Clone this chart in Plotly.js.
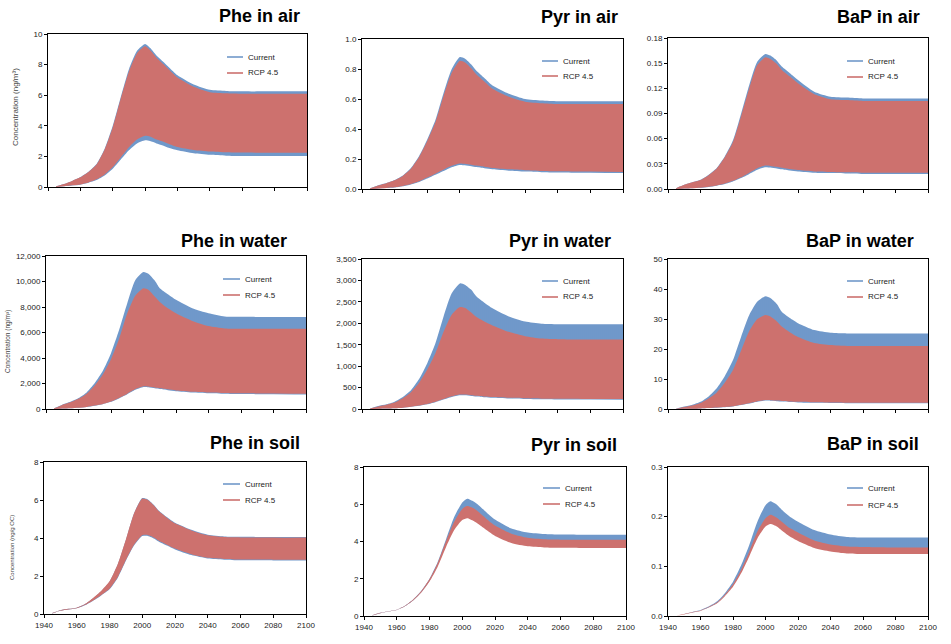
<!DOCTYPE html>
<html><head><meta charset="utf-8">
<script src="https://cdn.plot.ly/plotly-3.0.1.min.js"></script>
<style>html,body{margin:0;padding:0;background:#fff}</style>
</head><body><div id="chart" style="width:951px;height:644px"></div>
<script>
// ---- data (annual peak / trough envelopes) ----
const years = [1945,1950,1955,1960,1965,1970,1975,1980,1985,1990,1995,2000,2003,2007,2010,2015,2020,2030,2040,2050,2060,2080,2100];
const seriesNames = ['Current','RCP 4.5'];
const panelTitles = ['Phe in air','Pyr in air','BaP in air','Phe in water','Pyr in water','BaP in water','Phe in soil','Pyr in soil','BaP in soil'];
const yTitles = ['Concentration (ng/m³)','Concentration (ng/m³)','Concentration (ng/g OC)'];
const xTickLabels = ['1940','1960','1980','2000','2020','2040','2060','2080','2100'];

const pheAirCurMax = [0.05,0.2,0.4,0.65,1.0,1.5,2.5,4.0,5.9,7.7,8.9,9.35,9.1,8.6,8.3,7.8,7.3,6.7,6.35,6.28,6.25,6.25,6.25];
const pheAirCurMin = [0,0.05,0.1,0.15,0.28,0.45,0.75,1.2,1.8,2.4,2.85,3.05,3.0,2.85,2.75,2.55,2.4,2.2,2.1,2.05,2.03,2.02,2.02];
const pheAirRcpMax = [0.05,0.2,0.4,0.63,0.98,1.47,2.45,3.9,5.8,7.55,8.75,9.2,8.95,8.45,8.15,7.65,7.15,6.55,6.2,6.13,6.1,6.1,6.1];
const pheAirRcpMin = [0,0.05,0.11,0.17,0.3,0.5,0.82,1.3,1.95,2.6,3.1,3.35,3.3,3.1,3.0,2.8,2.62,2.42,2.32,2.27,2.25,2.24,2.24];

const pyrAirCurMax = [0.005,0.025,0.04,0.06,0.09,0.14,0.22,0.33,0.46,0.64,0.8,0.88,0.87,0.83,0.79,0.74,0.69,0.635,0.6,0.59,0.585,0.585,0.585];
const pyrAirCurMin = [0,0.003,0.006,0.01,0.018,0.03,0.047,0.07,0.095,0.12,0.145,0.16,0.158,0.152,0.146,0.138,0.131,0.122,0.116,0.112,0.11,0.108,0.106];
const pyrAirRcpMax = [0.005,0.024,0.039,0.058,0.087,0.135,0.213,0.32,0.445,0.62,0.775,0.855,0.845,0.805,0.765,0.717,0.668,0.615,0.582,0.572,0.567,0.567,0.567];
const pyrAirRcpMin = [0,0.003,0.007,0.011,0.02,0.033,0.051,0.076,0.102,0.13,0.155,0.17,0.168,0.162,0.156,0.148,0.14,0.131,0.125,0.12,0.118,0.116,0.114];

const bapAirCurMax = [0.001,0.005,0.008,0.011,0.017,0.025,0.039,0.058,0.09,0.124,0.152,0.161,0.159,0.153,0.146,0.138,0.13,0.116,0.11,0.109,0.108,0.108,0.108];
const bapAirCurMin = [0,0.0005,0.001,0.0015,0.0025,0.004,0.006,0.009,0.013,0.018,0.023,0.026,0.0255,0.0245,0.0235,0.022,0.021,0.0195,0.019,0.0185,0.018,0.018,0.018];
const bapAirRcpMax = [0.001,0.005,0.008,0.0107,0.0165,0.0243,0.038,0.056,0.087,0.12,0.148,0.157,0.155,0.149,0.142,0.134,0.126,0.113,0.107,0.106,0.105,0.105,0.105];
const bapAirRcpMin = [0,0.0005,0.001,0.0016,0.0027,0.0043,0.0065,0.0097,0.014,0.0195,0.0248,0.028,0.0275,0.0264,0.0253,0.0237,0.0226,0.021,0.0204,0.0199,0.0194,0.0194,0.0194];

const pheWaterCurMax = [50,340,560,860,1300,2030,3000,4380,6210,8300,10120,10750,10600,10050,9470,9000,8560,7900,7510,7250,7230,7220,7220];
const pheWaterCurMin = [0,30,60,100,160,260,380,560,830,1150,1500,1720,1700,1620,1560,1480,1400,1300,1240,1200,1170,1150,1130];
const pheWaterRcpMax = [50,320,520,800,1200,1850,2700,3900,5500,7500,8900,9470,9350,8800,8400,7900,7500,6900,6500,6320,6300,6300,6300];
const pheWaterRcpMin = [0,30,60,100,165,270,400,590,870,1200,1560,1780,1760,1680,1620,1540,1460,1360,1300,1260,1230,1210,1190];

const pyrWaterCurMax = [10,70,110,170,280,440,700,1070,1535,2160,2700,2930,2900,2780,2630,2480,2350,2160,2040,1990,1980,1980,1980];
const pyrWaterCurMin = [0,5,10,18,30,50,75,110,160,220,280,320,318,305,292,275,262,245,235,228,224,220,218];
const pyrWaterRcpMax = [10,60,100,150,250,390,610,920,1300,1800,2200,2380,2360,2250,2150,2040,1950,1800,1700,1645,1630,1620,1620];
const pyrWaterRcpMin = [0,5,10,19,32,53,80,117,170,233,297,340,337,323,310,292,278,260,250,242,238,234,232];

const bapWaterCurMax = [0.1,0.8,1.4,2.4,4.2,6.9,11,16.3,24.1,31.3,35.8,37.6,37.0,35.0,32.4,30.3,28.6,26.3,25.4,25.2,25.2,25.2,25.2];
const bapWaterCurMin = [0,0.05,0.1,0.2,0.3,0.45,0.6,0.85,1.3,1.8,2.4,2.8,2.75,2.62,2.5,2.35,2.2,2.05,2.0,1.95,1.92,1.9,1.9];
const bapWaterRcpMax = [0.1,0.7,1.2,2.0,3.5,5.5,8.8,13,19.5,26,30,31.3,30.8,29.2,27.5,25.6,24,22,21.3,21.0,21.0,21.0,21.0];
const bapWaterRcpMin = [0,0.05,0.1,0.2,0.32,0.48,0.65,0.9,1.4,1.95,2.6,3.0,2.95,2.8,2.68,2.52,2.38,2.22,2.15,2.1,2.07,2.05,2.05];

const pheSoilCurMax = [0.05,0.2,0.27,0.33,0.52,0.83,1.2,1.7,2.6,3.9,5.3,6.1,6.05,5.75,5.45,5.1,4.8,4.43,4.17,4.08,4.06,4.05,4.05];
const pheSoilCurMin = [0.03,0.17,0.24,0.3,0.46,0.7,0.98,1.3,1.9,2.8,3.6,4.1,4.12,3.98,3.82,3.6,3.4,3.1,2.92,2.86,2.83,2.82,2.82];
const pheSoilRcpMax = [0.05,0.2,0.27,0.33,0.52,0.84,1.22,1.72,2.62,3.92,5.3,6.08,6.02,5.72,5.42,5.07,4.77,4.4,4.14,4.05,4.03,4.02,4.02];
const pheSoilRcpMin = [0.03,0.17,0.24,0.3,0.47,0.71,1.0,1.33,1.94,2.84,3.65,4.15,4.17,4.03,3.87,3.65,3.45,3.15,2.96,2.9,2.87,2.86,2.86];

const pyrSoilCurMax = [0.04,0.17,0.26,0.34,0.55,0.88,1.35,2.0,2.9,4.1,5.3,6.1,6.3,6.15,5.95,5.55,5.18,4.7,4.48,4.4,4.37,4.36,4.36];
const pyrSoilCurMin = [0.03,0.15,0.24,0.32,0.52,0.83,1.27,1.88,2.72,3.8,4.85,5.5,5.65,5.5,5.3,4.95,4.62,4.2,4.0,3.93,3.9,3.89,3.89];
const pyrSoilRcpMax = [0.04,0.17,0.26,0.34,0.55,0.88,1.34,1.98,2.85,4.0,5.05,5.75,5.9,5.78,5.58,5.2,4.86,4.42,4.2,4.12,4.1,4.1,4.1];
const pyrSoilRcpMin = [0.03,0.15,0.24,0.32,0.52,0.83,1.26,1.85,2.65,3.68,4.6,5.15,5.25,5.1,4.92,4.6,4.3,3.92,3.74,3.68,3.66,3.65,3.65];

const bapSoilCurMax = [0.001,0.004,0.008,0.012,0.019,0.029,0.046,0.069,0.102,0.143,0.19,0.223,0.231,0.224,0.214,0.2,0.19,0.173,0.164,0.159,0.158,0.158,0.158];
const bapSoilCurMin = [0.001,0.004,0.007,0.011,0.017,0.026,0.042,0.062,0.09,0.126,0.165,0.192,0.199,0.194,0.186,0.173,0.164,0.148,0.14,0.136,0.135,0.134,0.134];
const bapSoilRcpMax = [0.001,0.004,0.008,0.011,0.018,0.027,0.043,0.064,0.093,0.13,0.17,0.197,0.204,0.198,0.19,0.177,0.168,0.152,0.144,0.14,0.139,0.138,0.138];
const bapSoilRcpMin = [0.001,0.003,0.007,0.01,0.017,0.025,0.04,0.059,0.086,0.12,0.156,0.18,0.185,0.18,0.172,0.16,0.151,0.137,0.13,0.126,0.125,0.125,0.125];

// ---- layout geometry (pixels) ----
const W = 951, H = 644;
const BLUE = '#4F81BD', RED = '#C0504D';
const BLUE_BG = '#BBCFE8', RED_BG = '#EDBDBB';
const FONT = 'Liberation Sans, Arial, sans-serif';

const panels = [
  {env:[pheAirCurMin,pheAirCurMax,pheAirRcpMin,pheAirRcpMax], box:[48,307,34,187], yr:[0,10], dt:2, fmt:'', tl:[302,16], lg:[227,243,57,73,246]},
  {env:[pyrAirCurMin,pyrAirCurMax,pyrAirRcpMin,pyrAirRcpMax], box:[362,623,39,189], yr:[0,1], dt:0.2, fmt:'.1f', tl:[620,17], lg:[542,558,61,76,561]},
  {env:[bapAirCurMin,bapAirCurMax,bapAirRcpMin,bapAirRcpMax], box:[668,928,38,189], yr:[0,0.18], dt:0.03, fmt:'.2f', tl:[922,17], lg:[847,863,61,77,866]},
  {env:[pheWaterCurMin,pheWaterCurMax,pheWaterRcpMin,pheWaterRcpMax], box:[46,306,256,409], yr:[0,12000], dt:2000, fmt:',', tl:[289,241], lg:[223,240,279,295,243]},
  {env:[pyrWaterCurMin,pyrWaterCurMax,pyrWaterRcpMin,pyrWaterRcpMax], box:[362,623,259,409], yr:[0,3500], dt:500, fmt:',', tl:[613,241], lg:[542,558,281,297,561]},
  {env:[bapWaterCurMin,bapWaterCurMax,bapWaterRcpMin,bapWaterRcpMax], box:[668,928,259,409], yr:[0,50], dt:10, fmt:'', tl:[916,241], lg:[847,863,281,297,866]},
  {env:[pheSoilCurMin,pheSoilCurMax,pheSoilRcpMin,pheSoilRcpMax], box:[44,306,462,614], yr:[0,8], dt:2, fmt:'', tl:[302,443], lg:[223,240,484,500,243]},
  {env:[pyrSoilCurMin,pyrSoilCurMax,pyrSoilRcpMin,pyrSoilRcpMax], box:[364,626,467,616], yr:[0,8], dt:2, fmt:'', tl:[619,445], lg:[543,560,488,504,563]},
  {env:[bapSoilCurMin,bapSoilCurMax,bapSoilRcpMin,bapSoilRcpMax], box:[668,928,467,616], yr:[0,0.3], dt:0.1, fmt:'.1f', tl:[921,444], lg:[847,863,488,505,866]}
];
const yTitlePos = [[15,107,8],[8,342,6.5],[12,548,6]];

const fx = x => x / W;
const fy = y => 1 - y / H;

const traces = [];
const layout = {
  width: W, height: H, margin:{l:0,r:0,t:0,b:0},
  paper_bgcolor:'#fff', plot_bgcolor:'#fff', showlegend:false,
  font:{family:FONT, size:8, color:'#222'},
  annotations:[], shapes:[]
};

panels.forEach((p, i) => {
  const n = i + 1, sfx = n === 1 ? '' : String(n);
  const xa = 'x' + sfx, ya = 'y' + sfx;
  const styles = [[BLUE, BLUE_BG], [RED, RED_BG]];
  for (let s = 0; s < 2; s++) {
    const [fg, bg] = styles[s];
    traces.push({x: years, y: p.env[2*s], xaxis: xa, yaxis: ya, mode:'lines',
      line:{width:0, shape:'spline', smoothing:0.6}, hoverinfo:'skip', showlegend:false});
    traces.push({x: years, y: p.env[2*s+1], xaxis: xa, yaxis: ya, mode:'lines', name: seriesNames[s],
      line:{width:0, shape:'spline', smoothing:0.6}, fill:'tonexty', fillcolor: bg,
      fillpattern:{shape:'|', size:2, solidity:0.7, fgcolor: fg, bgcolor: bg, fgopacity:1},
      showlegend:false});
  }
  const row = Math.floor(i / 3);
  layout['xaxis' + sfx] = {
    domain:[fx(p.box[0]), fx(p.box[1])], anchor: ya, range:[1940,2100],
    tickmode:'array', tickvals: xTickLabels.map(Number), ticktext: xTickLabels,
    showticklabels: row === 2, ticks:'outside', ticklen:3, tickcolor:'#000',
    showline:true, mirror:true, linecolor:'#000', linewidth:1, showgrid:false, zeroline:false,
    tickfont:{size:8, color:'#222', family:FONT}
  };
  layout['yaxis' + sfx] = {
    domain:[fy(p.box[3]), fy(p.box[2])], anchor: xa, range: p.yr,
    tick0:0, dtick:p.dt, tickformat:p.fmt, ticks:'outside', ticklen:3, tickcolor:'#000',
    showline:true, mirror:true, linecolor:'#000', linewidth:1, showgrid:false, zeroline:false,
    tickfont:{size:8, color:'#222', family:FONT}
  };
  layout.annotations.push({text:'<b>' + panelTitles[i] + '</b>', xref:'paper', yref:'paper',
    x: fx(p.tl[0]), y: fy(p.tl[1]), xanchor:'right', yanchor:'middle', showarrow:false,
    font:{family:FONT, size:18, color:'#000'}});
  const lg = p.lg;
  [[BLUE, lg[2]], [RED, lg[3]]].forEach(([c, yy], s) => {
    layout.shapes.push({type:'line', xref:'paper', yref:'paper', x0: fx(lg[0]), x1: fx(lg[1]),
      y0: fy(yy), y1: fy(yy), line:{color:c, width:1.3}});
    layout.annotations.push({text: seriesNames[s], xref:'paper', yref:'paper', x: fx(lg[4]), y: fy(yy),
      xanchor:'left', yanchor:'middle', showarrow:false, font:{family:FONT, size:8, color:'#222'}});
  });
  if (i % 3 === 0) {
    const t = yTitlePos[row];
    layout.annotations.push({text: yTitles[row], xref:'paper', yref:'paper', x: fx(t[0]), y: fy(t[1]),
      xanchor:'center', yanchor:'middle', textangle:-90, showarrow:false,
      font:{family:FONT, size:t[2], color:'#444'}});
  }
});

Plotly.newPlot('chart', traces, layout, {staticPlot:true, displayModeBar:false});
</script>
</body></html>
